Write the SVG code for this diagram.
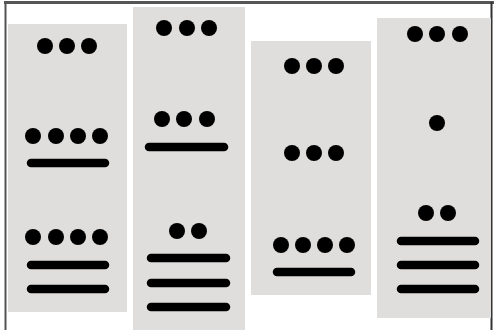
<svg xmlns="http://www.w3.org/2000/svg" width="494" height="330" viewBox="0 0 494 330">
<style>
.panel{fill:#e0dedc}
.dot{fill:#000}
.bar{stroke:#000;stroke-width:8.5;stroke-linecap:round;fill:none}
.frame{stroke:#555;fill:none}
</style>
<defs>
<circle id="d" r="8" class="dot"/>
</defs>
<rect width="494" height="330" fill="#fff"/>
<g id="frame">
<line class="frame" x1="4" y1="2.5" x2="494" y2="2.5" stroke-width="3"/>
<line class="frame" x1="5.5" y1="2" x2="5.5" y2="330" stroke-width="2"/>
<line class="frame" x1="491.5" y1="2" x2="491.5" y2="330" stroke-width="2" style="stroke:#333"/>
</g>
<g id="n1">
<rect class="panel" x="8" y="24" width="119" height="288"/>
<use href="#d" x="45" y="46"/><use href="#d" x="67" y="46"/><use href="#d" x="89" y="46"/>
<use href="#d" x="33" y="136"/><use href="#d" x="56" y="136"/><use href="#d" x="78" y="136"/><use href="#d" x="100" y="136"/>
<line class="bar" x1="31" y1="163" x2="105" y2="163"/>
<use href="#d" x="33" y="237"/><use href="#d" x="56" y="237"/><use href="#d" x="78" y="237"/><use href="#d" x="100" y="237"/>
<line class="bar" x1="31" y1="265" x2="105" y2="265"/>
<line class="bar" x1="31" y1="289" x2="105" y2="289"/>
</g>
<g id="n2">
<rect class="panel" x="133" y="7" width="112" height="323"/>
<use href="#d" x="164" y="28"/><use href="#d" x="187" y="28"/><use href="#d" x="209" y="28"/>
<use href="#d" x="162" y="119"/><use href="#d" x="184" y="119"/><use href="#d" x="207" y="119"/>
<line class="bar" x1="149" y1="147" x2="224" y2="147"/>
<use href="#d" x="177" y="231"/><use href="#d" x="199" y="231"/>
<line class="bar" x1="151" y1="258" x2="226" y2="258"/>
<line class="bar" x1="151" y1="283" x2="226" y2="283"/>
<line class="bar" x1="151" y1="307" x2="226" y2="307"/>
</g>
<g id="n3">
<rect class="panel" x="251" y="41" width="120" height="254"/>
<use href="#d" x="292" y="66"/><use href="#d" x="314" y="66"/><use href="#d" x="336" y="66"/>
<use href="#d" x="292" y="153"/><use href="#d" x="314" y="153"/><use href="#d" x="336" y="153"/>
<use href="#d" x="281" y="245"/><use href="#d" x="303" y="245"/><use href="#d" x="325" y="245"/><use href="#d" x="347" y="245"/>
<line class="bar" x1="277" y1="272" x2="351" y2="272"/>
</g>
<g id="n4">
<rect class="panel" x="377" y="18" width="114" height="300"/>
<use href="#d" x="415" y="34"/><use href="#d" x="437" y="34"/><use href="#d" x="460" y="34"/>
<use href="#d" x="437" y="123"/>
<use href="#d" x="426" y="213"/><use href="#d" x="448" y="213"/>
<line class="bar" x1="401" y1="241" x2="475" y2="241"/>
<line class="bar" x1="401" y1="265" x2="475" y2="265"/>
<line class="bar" x1="401" y1="289" x2="475" y2="289"/>
</g>
<g id="connectors"></g>
</svg>
